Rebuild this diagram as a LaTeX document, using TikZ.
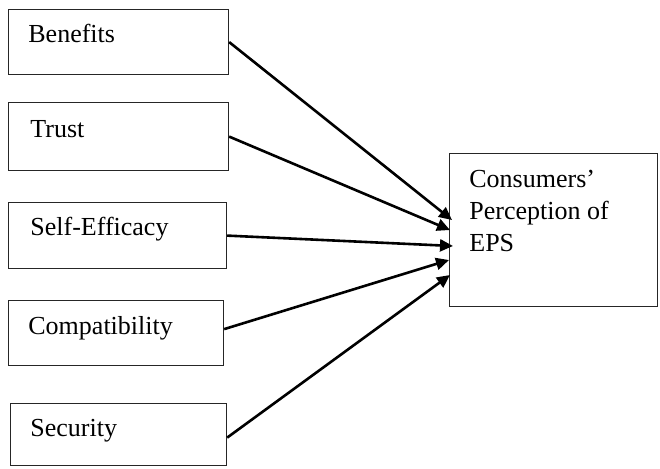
\documentclass[tikz,border=0pt]{standalone}
\usepackage{fontspec}
\setmainfont{Liberation Serif}
\usetikzlibrary{arrows.meta,calc}
\begin{document}
\begin{tikzpicture}[x=0.5pt,y=-0.5pt,
  box/.style={draw=black!85,line width=0.6pt,rectangle,inner sep=0pt,anchor=north west},
  lbl/.style={font=\fontsize{13pt}{16pt}\selectfont,inner sep=0pt,anchor=base west,align=left},
  conn/.style={line width=1.3pt,-{Triangle[length=6.5pt,width=6pt]}}]
\useasboundingbox (0,0) rectangle (660,468);
\node[box,minimum width=110pt,minimum height=32.5pt] (b1) at (8,9) {};
\node[box,minimum width=110pt,minimum height=34pt] (b2) at (8,102) {};
\node[box,minimum width=109pt,minimum height=33pt] (b3) at (8,202) {};
\node[box,minimum width=107.5pt,minimum height=32.5pt] (b4) at (8,300) {};
\node[box,minimum width=108pt,minimum height=31pt] (b5) at (10,403) {};
\node[box,minimum width=104pt,minimum height=76.5pt] (c) at (449,153) {};
\node[lbl] (t1) at (28,42) {Benefits};
\node[lbl] (t2) at (30,137) {Trust};
\node[lbl] (t3) at (30,235) {Self-Efficacy};
\node[lbl] (t4) at (28,334) {Compatibility};
\node[lbl] (t5) at (30,436) {Security};
\node[lbl,text depth=0pt] (tc) at (469,187) {Consumers’};
\node[lbl] (tc2) at (469,219) {Perception of};
\node[lbl] (tc3) at (469,251) {EPS};
\coordinate (e1) at (452,220);
\coordinate (e2) at (450,230);
\coordinate (e3) at (453,246);
\coordinate (e4) at (449,260);
\coordinate (e5) at (450,275);
\draw[conn] (b1.east) -- (e1);
\draw[conn] (b2.east) -- (e2);
\draw[conn] (b3.east) -- (e3);
\draw[conn] ($(b4.east)+(0,-4)$) -- (e4);
\draw[conn] ($(b5.east)+(0,3)$) -- (e5);
\end{tikzpicture}
\end{document}
